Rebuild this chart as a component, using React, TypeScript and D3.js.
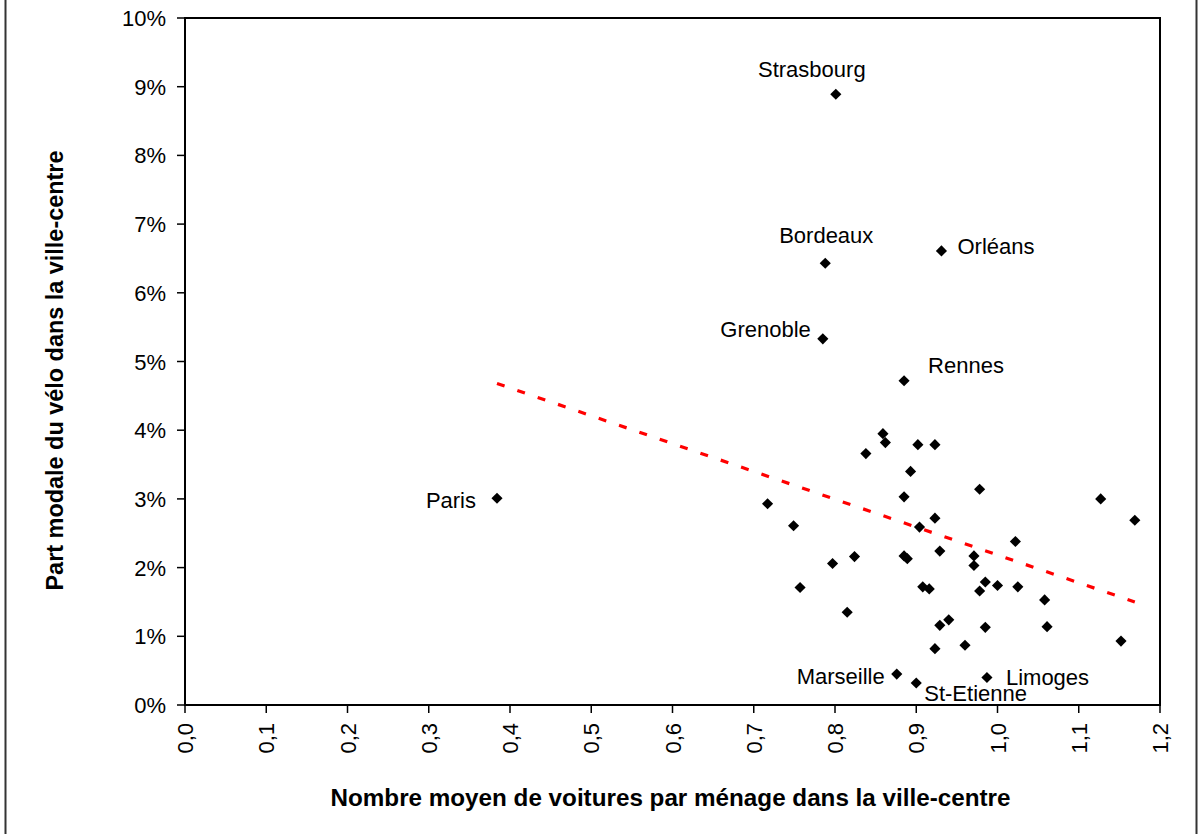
import React, { useRef, useEffect } from "react";
import * as d3 from "d3";

// cities (empty name = no label)
const cities = [
    "Strasbourg", "Bordeaux", "Orléans", "Grenoble", "Rennes", "Paris", "Marseille", "St-Etienne", "Limoges",
    "", "", "", "", "", "", "", "", "", "",
    "", "", "", "", "", "", "", "", "", "",
    "", "", "", "", "", "", "", "", "", "",
    "", "", "", "", "", "", "", "",
];

// nombre moyen de voitures par ménage
const carsPerHousehold = [
    0.801, 0.788, 0.931, 0.785, 0.885, 0.384, 0.876, 0.9, 0.987,
    0.859, 0.862, 0.902, 0.923, 0.838, 0.893, 0.978, 1.127, 0.717, 0.885,
    1.169, 0.923, 0.749, 0.904, 1.022, 0.824, 0.885, 0.889, 0.929, 0.971,
    0.971, 0.797, 0.757, 0.908, 0.916, 0.985, 0.978, 1.0, 1.025, 1.058,
    0.815, 0.94, 0.929, 0.985, 1.061, 1.152, 0.96, 0.923,
];

// part modale du vélo (%)
const bikeShare = [
    8.89, 6.43, 6.61, 5.33, 4.72, 3.01, 0.45, 0.32, 0.4,
    3.95, 3.82, 3.79, 3.79, 3.66, 3.4, 3.14, 3.0, 2.93, 3.03,
    2.69, 2.72, 2.61, 2.59, 2.38, 2.16, 2.17, 2.13, 2.24, 2.17,
    2.03, 2.06, 1.71, 1.72, 1.69, 1.79, 1.66, 1.74, 1.72, 1.53,
    1.35, 1.24, 1.16, 1.13, 1.14, 0.93, 0.87, 0.82,
];

// linear trend line endpoints
const trendX = [0.384, 1.169];
const trendY = [4.68, 1.5];

const xTicks = [0, 0.1, 0.2, 0.3, 0.4, 0.5, 0.6, 0.7, 0.8, 0.9, 1.0, 1.1, 1.2];
const yTicks = [0, 1, 2, 3, 4, 5, 6, 7, 8, 9, 10];

const xTitle = "Nombre moyen de voitures par ménage dans la ville-centre";
const yTitle = "Part modale du vélo dans la ville-centre";

// where each city label sits relative to its marker
const labelPlacement: { [key: string]: { anchor: string; dx: number; dy: number } } = {
    Strasbourg: { anchor: "middle", dx: -24, dy: -17 },
    Bordeaux: { anchor: "middle", dx: 1, dy: -20 },
    "Orléans": { anchor: "start", dx: 16, dy: 3 },
    Grenoble: { anchor: "end", dx: -12, dy: -2 },
    Rennes: { anchor: "start", dx: 24, dy: -8 },
    Paris: { anchor: "end", dx: -21, dy: 10 },
    Marseille: { anchor: "end", dx: -12, dy: 10 },
    "St-Etienne": { anchor: "start", dx: 8, dy: 18 },
    Limoges: { anchor: "start", dx: 19, dy: 7 },
};

const Chart: React.FC = () => {
    const chartRef = useRef(null);

    useEffect(() => {
        const width = 1198,
            height = 834;
        const left = 185,
            right = 1160,
            top = 18,
            bottom = 705;
        const font = "'Liberation Sans', Arial, sans-serif";

        const svg = d3.select(chartRef.current).attr("width", width).attr("height", height);
        svg.selectAll("*").remove();

        svg.append("rect").attr("width", width).attr("height", height).attr("fill", "white");

        // outer frame (only sides visible)
        svg.append("line").attr("x1", 5.5).attr("x2", 5.5).attr("y1", 0).attr("y2", height)
            .attr("stroke", "#333").attr("stroke-width", 2);
        svg.append("line").attr("x1", 1196.5).attr("x2", 1196.5).attr("y1", 0).attr("y2", height)
            .attr("stroke", "#333").attr("stroke-width", 2);

        const x = d3.scaleLinear().domain([0, 1.2]).range([left, right]);
        const y = d3.scaleLinear().domain([0, 10]).range([bottom, top]);

        // plot border
        svg.append("rect")
            .attr("x", left).attr("y", top)
            .attr("width", right - left).attr("height", bottom - top)
            .attr("fill", "none").attr("stroke", "black").attr("stroke-width", 2);

        // y ticks
        const yAxis = svg.append("g");
        yTicks.forEach((t) => {
            yAxis.append("line").attr("x1", left - 8).attr("x2", left)
                .attr("y1", y(t)).attr("y2", y(t)).attr("stroke", "black").attr("stroke-width", 1.5);
            yAxis.append("text").attr("x", left - 19).attr("y", y(t) + 8)
                .attr("text-anchor", "end").attr("font-family", font).attr("font-size", 22)
                .text(`${t}%`);
        });

        // x ticks
        const xAxis = svg.append("g");
        xTicks.forEach((t) => {
            xAxis.append("line").attr("x1", x(t)).attr("x2", x(t))
                .attr("y1", bottom).attr("y2", bottom + 8).attr("stroke", "black").attr("stroke-width", 1.5);
            xAxis.append("text")
                .attr("transform", `translate(${x(t) + 8},${bottom + 18}) rotate(-90)`)
                .attr("text-anchor", "end").attr("font-family", font).attr("font-size", 22)
                .text(t.toFixed(1).replace(".", ","));
        });

        // axis titles
        svg.append("text")
            .attr("x", (left + right) / 2 - 2).attr("y", 806)
            .attr("text-anchor", "middle").attr("font-family", font)
            .attr("font-size", 23).attr("font-weight", "bold")
            .attr("textLength", 680).attr("lengthAdjust", "spacingAndGlyphs")
            .text(xTitle);
        svg.append("text")
            .attr("transform", `translate(63,${(top + bottom) / 2 + 9}) rotate(-90)`)
            .attr("text-anchor", "middle").attr("font-family", font)
            .attr("font-size", 23).attr("font-weight", "bold")
            .attr("textLength", 440).attr("lengthAdjust", "spacingAndGlyphs")
            .text(yTitle);

        // trend line
        const trend = d3.line<number>()
            .x((d) => x(d))
            .y((_, i) => y(trendY[i]));
        svg.append("path")
            .attr("d", trend(trendX) || "")
            .attr("fill", "none").attr("stroke", "#ff0000")
            .attr("stroke-width", 3.2).attr("stroke-dasharray", "8 13.5");

        // markers
        const pts = carsPerHousehold.map((v, i) => ({ name: cities[i], cx: x(v), cy: y(bikeShare[i]) }));
        const diamond = d3.symbol().type(d3.symbolSquare).size(62);
        svg.append("g").selectAll("path")
            .data(pts).enter().append("path")
            .attr("d", diamond() || "")
            .attr("transform", (d) => `translate(${d.cx},${d.cy}) rotate(45)`)
            .attr("fill", "black");

        // city labels
        svg.append("g").selectAll("text")
            .data(pts.filter((d) => d.name !== ""))
            .enter().append("text")
            .attr("x", (d) => d.cx + labelPlacement[d.name].dx)
            .attr("y", (d) => d.cy + labelPlacement[d.name].dy)
            .attr("text-anchor", (d) => labelPlacement[d.name].anchor)
            .attr("font-family", font).attr("font-size", 22)
            .text((d) => d.name);
    }, []);

    return <svg ref={chartRef} style={{ position: "absolute", left: 0, top: 0 }}></svg>;
};

export default function App() {
    return <Chart />;
}
